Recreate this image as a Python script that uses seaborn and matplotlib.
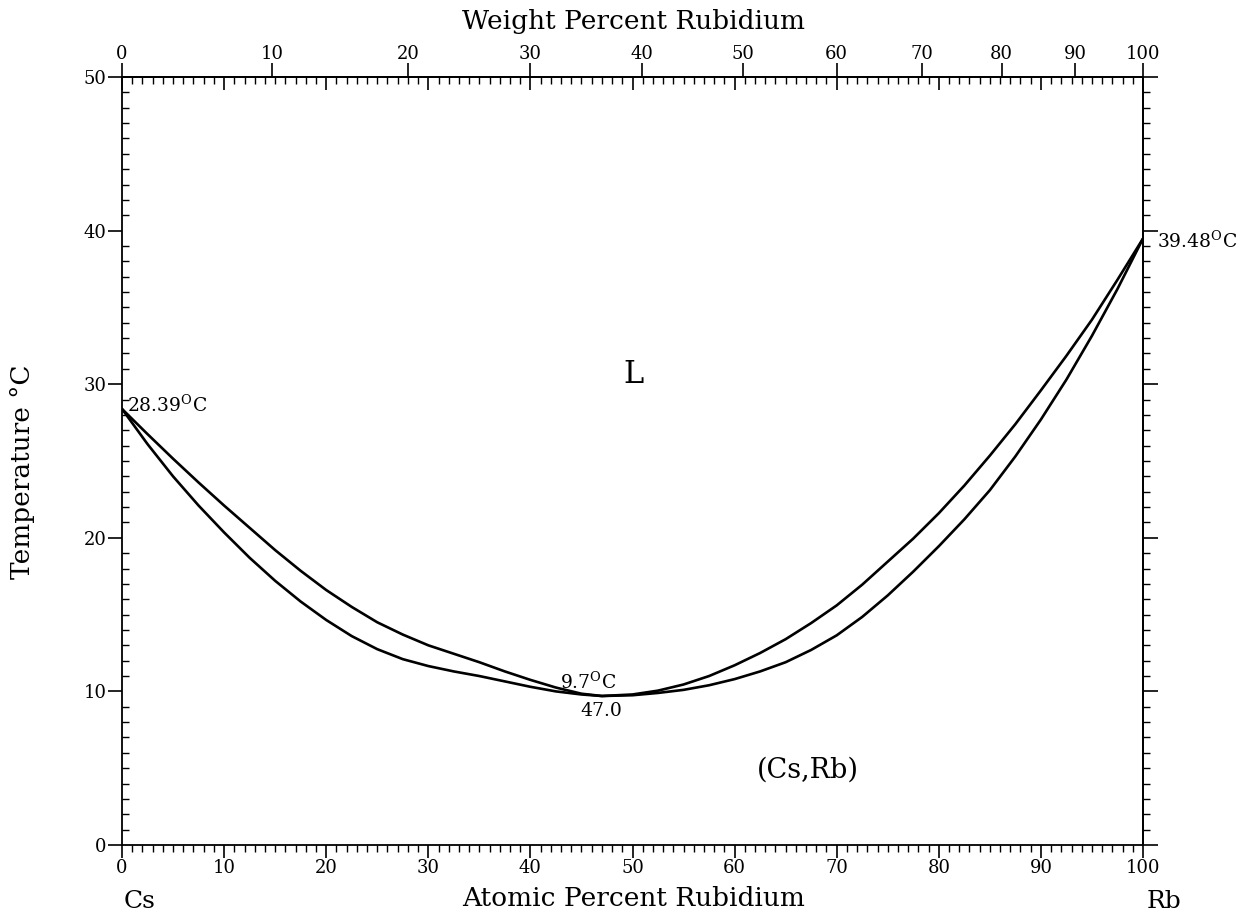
import numpy as np
import pandas as pd
import matplotlib
matplotlib.use("Agg")
import matplotlib.pyplot as plt
import seaborn as sns
from matplotlib.ticker import MultipleLocator, FixedLocator, NullLocator

# Cs-Rb phase diagram
at_pct = [0, 2.5, 5, 7.5, 10, 12.5, 15, 17.5, 20, 22.5, 25, 27.5, 30, 32.5, 35,
          37.5, 40, 42.5, 45, 47, 50, 52.5, 55, 57.5, 60, 62.5, 65, 67.5, 70,
          72.5, 75, 77.5, 80, 82.5, 85, 87.5, 90, 92.5, 95, 97.5, 100]
liquidus_T = [28.39, 26.75, 25.15, 23.6, 22.1, 20.65, 19.2, 17.85, 16.6, 15.5,
              14.5, 13.7, 13.0, 12.45, 11.9, 11.3, 10.75, 10.25, 9.85, 9.7,
              9.8, 10.05, 10.45, 11.0, 11.7, 12.5, 13.4, 14.45, 15.6, 16.95,
              18.45, 19.95, 21.6, 23.4, 25.35, 27.4, 29.6, 31.85, 34.2, 36.8, 39.48]
solidus_T = [28.39, 26.1, 24.0, 22.1, 20.35, 18.7, 17.2, 15.85, 14.65, 13.6,
             12.75, 12.1, 11.65, 11.3, 11.0, 10.65, 10.3, 10.0, 9.8, 9.7,
             9.75, 9.9, 10.1, 10.4, 10.8, 11.3, 11.9, 12.7, 13.65, 14.85,
             16.25, 17.8, 19.45, 21.2, 23.1, 25.3, 27.7, 30.3, 33.15, 36.2, 39.48]

wt_ticks = [0, 10, 20, 30, 40, 50, 60, 70, 80, 90, 100]

M_CS = 132.905
M_RB = 85.468


def at_to_wt(a):
    a = np.asarray(a, dtype=float)
    with np.errstate(divide='ignore', invalid='ignore'):
        return 100 * a * M_RB / (a * M_RB + (100 - a) * M_CS)


def wt_to_at(w):
    w = np.asarray(w, dtype=float)
    with np.errstate(divide='ignore', invalid='ignore'):
        return 100 * (w / M_RB) / (w / M_RB + (100 - w) / M_CS)


sns.set_style("ticks")
plt.rcParams['font.family'] = ['DejaVu Serif']
plt.rcParams['mathtext.fontset'] = 'dejavuserif'
for key in ('text.color', 'axes.labelcolor', 'xtick.color', 'ytick.color', 'axes.edgecolor'):
    plt.rcParams[key] = 'black'

df = pd.DataFrame({
    'at': at_pct + at_pct,
    'T': liquidus_T + solidus_T,
    'curve': ['liquidus'] * len(at_pct) + ['solidus'] * len(at_pct),
})

fig = plt.figure(figsize=(12.39, 9.16), dpi=100)
ax = fig.add_axes([122 / 1239, 71 / 916, 1021 / 1239, 768 / 916])

sns.lineplot(data=df, x='at', y='T', units='curve', estimator=None, sort=False,
             color='black', linewidth=1.9, ax=ax)

ax.set_xlim(0, 100)
ax.set_ylim(0, 50)
ax.set_xlabel('')
ax.set_ylabel('')

for s in ax.spines.values():
    s.set_linewidth(1.3)

ax.xaxis.set_major_locator(MultipleLocator(10))
ax.xaxis.set_minor_locator(MultipleLocator(1))
ax.yaxis.set_major_locator(MultipleLocator(10))
ax.yaxis.set_minor_locator(MultipleLocator(1))
ax.tick_params(axis='x', which='major', direction='out', length=9, width=1.2,
               bottom=True, top=False, labelsize=13, pad=1)
ax.tick_params(axis='x', which='minor', direction='out', length=5, width=1.0,
               bottom=True, top=False)
ax.tick_params(axis='y', which='major', direction='out', length=10, width=1.2,
               left=True, right=False, labelsize=13, pad=1)
ax.tick_params(axis='y', which='minor', direction='in', length=5, width=1.0,
               left=True, right=False)

# top: atomic ticks pointing inward
top_at = ax.secondary_xaxis('top')
top_at.xaxis.set_major_locator(MultipleLocator(10))
top_at.xaxis.set_minor_locator(MultipleLocator(1))
top_at.tick_params(which='major', direction='in', length=9, width=1.2, top=True, labeltop=False)
top_at.tick_params(which='minor', direction='in', length=5, width=1.0, top=True)

# top: weight percent scale
top_wt = ax.secondary_xaxis('top', functions=(at_to_wt, wt_to_at))
top_wt.xaxis.set_major_locator(FixedLocator(wt_ticks))
top_wt.xaxis.set_minor_locator(NullLocator())
top_wt.tick_params(which='major', direction='out', length=10, width=1.2, top=True,
                   labelsize=13, pad=0)

# right: ticks pointing outward, no labels
right = ax.secondary_yaxis('right')
right.yaxis.set_major_locator(MultipleLocator(10))
right.yaxis.set_minor_locator(MultipleLocator(1))
right.tick_params(which='major', direction='out', length=11, width=1.2, right=True,
                  labelright=False)
right.tick_params(which='minor', direction='out', length=5, width=1.0, right=True)

for sec in (top_at, top_wt, right):
    for s in sec.spines.values():
        s.set_linewidth(1.3)

# annotations
deg = r'$^{\mathrm{O}}$'
ax.text(0.5, 28.2, '28.39' + deg + 'C', fontsize=13.5, ha='left', va='baseline')
ax.text(101.4, 38.85, '39.48' + deg + 'C', fontsize=13.5, ha='left', va='baseline',
        clip_on=False)
ax.text(42.9, 10.2, '9.7' + deg + 'C', fontsize=13.5, ha='left', va='baseline')
ax.text(44.9, 8.4, '47.0', fontsize=13.5, ha='left', va='baseline')
ax.text(50.1, 30.6, 'L', fontsize=22, ha='center', va='center')
ax.text(67.2, 4.9, '(Cs,Rb)', fontsize=19.5, ha='center', va='center')

fig.text(634 / 1239, 1 - 898 / 916, 'Atomic Percent Rubidium', fontsize=19,
         ha='center', va='center')
fig.text(634 / 1239, 1 - 21 / 916, 'Weight Percent Rubidium', fontsize=19,
         ha='center', va='center')
fig.text(22 / 1239, 1 - 472 / 916, 'Temperature °C', fontsize=19, rotation=90,
         ha='center', va='center')
fig.text(140 / 1239, 1 - 902 / 916, 'Cs', fontsize=18, ha='center', va='center')
fig.text(1164 / 1239, 1 - 902 / 916, 'Rb', fontsize=18, ha='center', va='center')

fig.savefig('out.png', dpi=100)
